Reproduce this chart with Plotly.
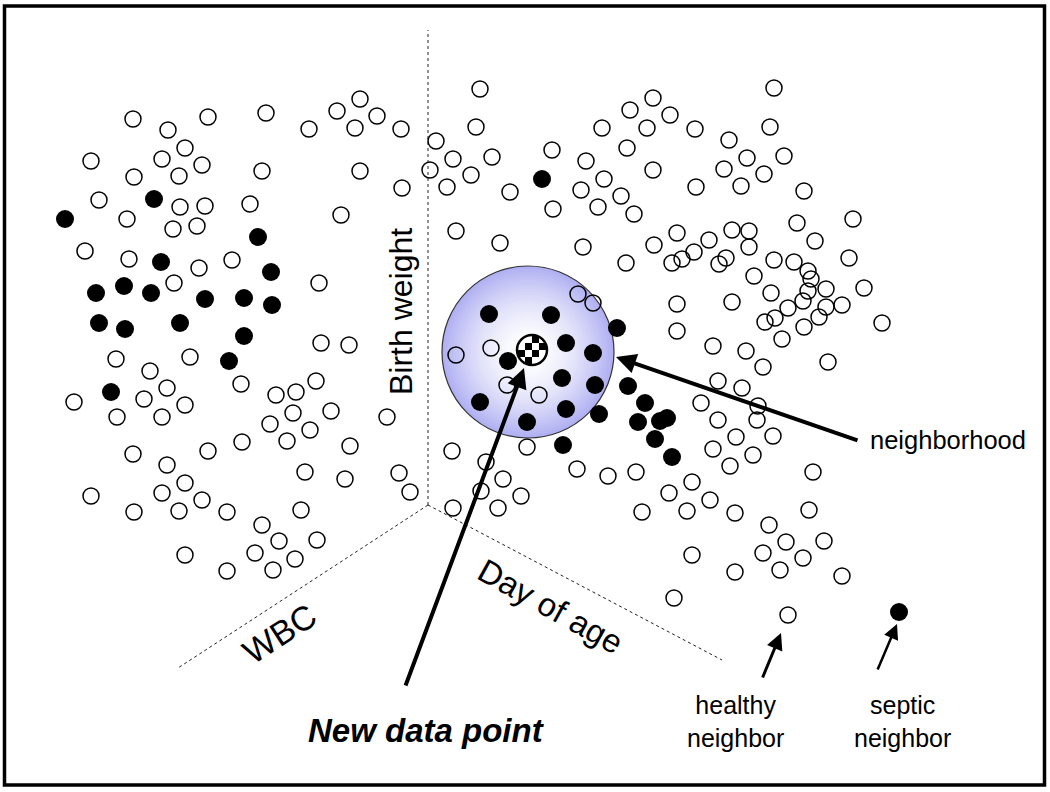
import plotly.graph_objects as go

# ---- data (pixel-space coordinates) ----
open_x = [133, 168, 208, 266, 309, 337, 360, 377, 355, 401, 185, 91, 162, 202, 134, 179, 262, 360, 402, 99,
          180, 205, 250, 127, 173, 197, 341, 85, 129, 199, 232, 174, 319, 321, 349, 116, 190, 150, 167, 241,
          316, 74, 144, 185, 117, 162, 276, 296, 293, 331, 270, 310, 287, 242, 350, 133, 208, 167, 305, 345,
          185, 91, 162, 202, 134, 179, 227, 301, 262, 279, 317, 185, 255, 295, 227, 273, 387, 399, 410,
          480, 476, 436, 453, 492, 430, 471, 447, 510, 552, 586, 604, 581, 553, 598, 621, 634, 602, 630, 653,
          670, 647, 627, 653, 456, 500, 583, 626, 654, 677, 672, 682, 578, 593, 677, 695, 696, 774, 770, 729,
          747, 784, 724, 764, 741, 804, 853, 797, 815, 709, 732, 749, 749, 694, 726, 719, 774, 794, 849, 754,
          808, 811, 808, 826, 864, 771, 803, 732, 788, 826, 842, 775, 765, 819, 804, 782, 882, 677, 713, 746,
          763, 828, 718, 742, 758, 701, 718, 757, 736, 773, 713, 753, 730, 813, 692, 669, 710, 687, 735, 809,
          769, 786, 824, 692, 763, 803, 780, 735, 842, 674, 491, 456, 507, 539, 452, 527, 486, 503, 521, 481,
          453, 498, 577, 608, 636, 642]
open_y = [119, 130, 117, 113, 129, 111, 99, 116, 128, 129, 148, 161, 159, 165, 177, 176, 171, 171, 188, 200,
          207, 206, 204, 219, 229, 226, 215, 251, 259, 268, 260, 283, 283, 343, 345, 359, 357, 371, 388, 384,
          381, 402, 399, 405, 417, 417, 395, 392, 413, 411, 424, 430, 441, 442, 446, 454, 451, 465, 472, 479,
          483, 496, 493, 500, 512, 511, 512, 510, 525, 541, 540, 555, 553, 559, 571, 570, 417, 473, 492,
          89, 127, 141, 159, 157, 170, 175, 187, 192, 150, 161, 179, 190, 209, 207, 196, 214, 128, 110, 98,
          115, 128, 148, 170, 231, 243, 247, 263, 245, 233, 263, 259, 294, 303, 304, 129, 187, 88, 127, 140,
          158, 156, 169, 174, 186, 191, 219, 223, 241, 240, 230, 231, 247, 252, 258, 264, 260, 262, 258, 276,
          271, 279, 291, 289, 288, 293, 301, 302, 308, 307, 305, 318, 322, 317, 327, 339, 323, 331, 346, 351,
          367, 362, 381, 388, 406, 403, 420, 420, 437, 436, 449, 455, 466, 472, 482, 493, 500, 511, 513, 510,
          525, 542, 541, 555, 553, 558, 570, 572, 576, 598, 348, 355, 385, 395, 451, 447, 462, 479, 496, 491,
          508, 508, 469, 476, 472, 512]

filled_x = [65, 154, 258, 161, 271, 96, 124, 151, 205, 244, 272, 99, 125, 180, 244, 229, 111, 542,
            489, 551, 566, 593, 508, 562, 595, 480, 566, 527, 617, 599, 563, 628, 645, 638, 660, 667, 655, 672]
filled_y = [219, 199, 237, 262, 272, 293, 286, 293, 299, 298, 305, 323, 329, 323, 336, 361, 392, 179,
            314, 315, 343, 353, 361, 378, 385, 402, 409, 422, 328, 414, 445, 386, 403, 422, 421, 418, 439, 457]

new_point_x = [532]
new_point_y = [350]

key_labels = ["healthy<br>neighbor", "septic<br>neighbor"]
key_x = [788, 899]
key_y = [615, 612]

axis_labels = ["Birth weight", "WBC", "Day of age"]

W, H = 1050, 792
FONT = "Liberation Sans, Arial, sans-serif"

fig = go.Figure()

shapes = []
# frame
shapes.append(dict(type="rect", x0=4.5, y0=6, x1=1044.5, y1=785, line=dict(color="black", width=3.5), layer="below"))
# dashed axes
vx, vy = 428, 505
for (x1, y1) in [(428, 30), (178, 668), (722, 660)]:
    shapes.append(dict(type="line", x0=vx, y0=vy, x1=x1, y1=y1,
                       line=dict(color="#222222", width=1, dash="3px,3px"), layer="below"))
# neighbourhood disc with radial gradient (stepped)
cx, cy, R = 528, 352, 86
edge = (176, 176, 242)
N = 30
for i in range(N):
    r = R * (1 - i / N)
    t = (r / R) ** 1.8
    col = tuple(int(round(255 + (e - 255) * t)) for e in edge)
    shapes.append(dict(type="circle", x0=cx - r, x1=cx + r, y0=cy - r, y1=cy + r,
                       fillcolor="rgb(%d,%d,%d)" % col, line=dict(width=0), layer="below"))
shapes.append(dict(type="circle", x0=cx - R, x1=cx + R, y0=cy - R, y1=cy + R,
                   line=dict(color="#333333", width=1.2), layer="below"))

fig.add_trace(go.Scatter(x=open_x, y=open_y, mode="markers", hoverinfo="skip",
                         marker=dict(symbol="circle-open", size=16, color="black", line=dict(width=1.5))))
fig.add_trace(go.Scatter(x=filled_x, y=filled_y, mode="markers", hoverinfo="skip",
                         marker=dict(symbol="circle", size=18, color="black", line=dict(width=0))))
# legend key markers
fig.add_trace(go.Scatter(x=[key_x[0]], y=[key_y[0]], mode="markers", hoverinfo="skip",
                         marker=dict(symbol="circle-open", size=16, color="black", line=dict(width=1.5))))
fig.add_trace(go.Scatter(x=[key_x[1]], y=[key_y[1]], mode="markers", hoverinfo="skip",
                         marker=dict(symbol="circle", size=18, color="black")))
# new data point: white disc, checker cells, outline
fig.add_trace(go.Scatter(x=new_point_x, y=new_point_y, mode="markers", hoverinfo="skip",
                         marker=dict(symbol="circle", size=29, color="white", line=dict(width=0))))
npx, npy = new_point_x[0], new_point_y[0]
cell = 7
for i in range(4):
    for j in range(4):
        if (i + j) % 2 == 0 and not (i in (0, 3) and j in (0, 3)):
            x0 = npx - 14 + i * cell
            y0 = npy - 14 + j * cell
            shapes.append(dict(type="rect", x0=x0, x1=x0 + cell, y0=y0, y1=y0 + cell,
                               fillcolor="black", line=dict(width=0), layer="above"))
shapes.append(dict(type="circle", x0=npx - 15, x1=npx + 15, y0=npy - 15, y1=npy + 15,
                   line=dict(color="black", width=2.5), layer="above"))

ann = []
# axis labels
ann.append(dict(x=401, y=312, text=axis_labels[0], textangle=-90, showarrow=False,
                font=dict(family=FONT, size=32, color="black"), xanchor="center", yanchor="middle"))
ann.append(dict(x=279, y=634, text=axis_labels[1], textangle=-33, showarrow=False,
                font=dict(family=FONT, size=34, color="black"), xanchor="center", yanchor="middle"))
ann.append(dict(x=551, y=606, text=axis_labels[2], textangle=29, showarrow=False,
                font=dict(family=FONT, size=33, color="black"), xanchor="center", yanchor="middle"))
ann.append(dict(x=426, y=730, text="<b><i>New data point</i></b>", showarrow=False,
                font=dict(family=FONT, size=33, color="black"), xanchor="center", yanchor="middle"))
ann.append(dict(x=868, y=440, text="neighborhood", showarrow=False,
                font=dict(family=FONT, size=25.5, color="black"), xanchor="left", yanchor="middle"))
ann.append(dict(x=735, y=721, text=key_labels[0], showarrow=False,
                font=dict(family=FONT, size=25, color="black"), xanchor="center", yanchor="middle"))
ann.append(dict(x=902, y=721, text=key_labels[1], showarrow=False,
                font=dict(family=FONT, size=25, color="black"), xanchor="center", yanchor="middle"))
# arrows
def arrow(hx, hy, tx, ty, w, size):
    return dict(x=hx, y=hy, ax=tx, ay=ty, xref="x", yref="y", axref="x", ayref="y", text="",
                showarrow=True, arrowhead=2, arrowsize=size, arrowwidth=w, arrowcolor="black", standoff=0)
ann.append(arrow(524, 368, 405, 687, 4, 1.0))
ann.append(arrow(616, 357, 859, 441, 4, 1.0))
ann.append(arrow(781, 633, 762, 679, 3, 1.1))
ann.append(arrow(897, 624, 877, 671, 2.5, 1.2))

fig.update_layout(width=W, height=H, autosize=False, margin=dict(l=0, r=0, t=0, b=0),
                  paper_bgcolor="white", plot_bgcolor="white", showlegend=False,
                  shapes=shapes, annotations=ann,
                  xaxis=dict(range=[0, W], visible=False, showgrid=False, zeroline=False, fixedrange=True),
                  yaxis=dict(range=[H, 0], visible=False, showgrid=False, zeroline=False, fixedrange=True))

fig.write_html("out.html", include_plotlyjs=True, config={"displayModeBar": False},
               post_script="document.body.style.margin='0';")
